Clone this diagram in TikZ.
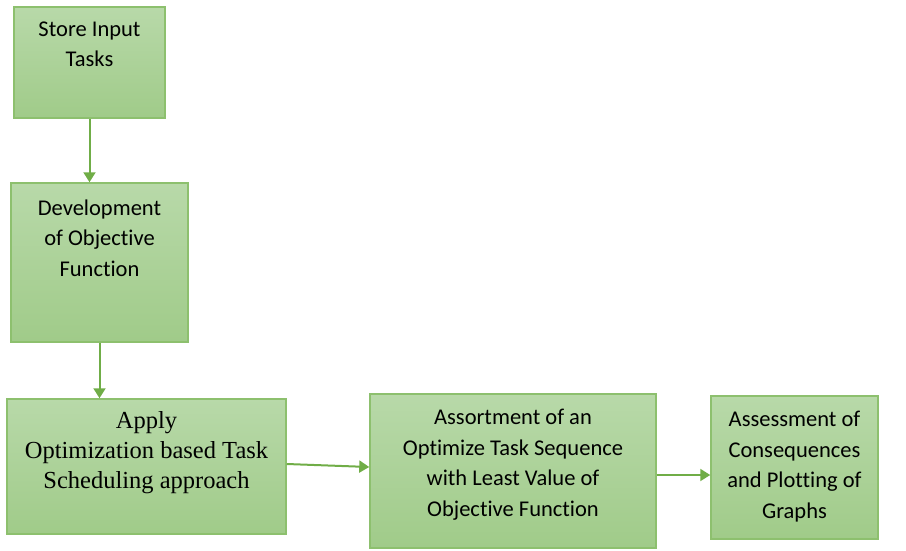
\documentclass[tikz,border=0pt]{standalone}
\usepackage{fontspec}
\setmainfont{Carlito}[Ligatures=NoCommon]
\newfontfamily\timesfont{Liberation Serif}
\usetikzlibrary{arrows.meta, calc, positioning}

\definecolor{boxline}{RGB}{141,192,110}
\definecolor{boxtop}{RGB}{184,217,169}
\definecolor{boxbottom}{RGB}{160,203,137}
\definecolor{arrowgreen}{RGB}{112,173,71}

\begin{document}
\begin{tikzpicture}[x=1pt, y=-1pt,
    box/.style={draw=boxline, line width=1.5pt, top color=boxtop, bottom color=boxbottom, inner sep=0pt},
    boxtext/.style={anchor=north, align=center, inner sep=0pt, font=\fontsize{22.5}{30.5}\selectfont},
    flow/.style={draw=arrowgreen, line width=2pt, -{Triangle[length=10pt,width=12pt]}}]
\useasboundingbox (0,0) rectangle (906,551);

% Boxes
\node[box, minimum width=151pt, minimum height=111pt] (store) at (89.5,62.5) {};
\node[box, minimum width=177pt, minimum height=159pt] (dev) at (99.5,262.5) {};
\node[box, minimum width=279pt, minimum height=135pt] (apply) at (146.5,466.5) {};
\node[box, minimum width=286pt, minimum height=154pt] (assort) at (513,471) {};
\node[box, minimum width=167pt, minimum height=143pt] (assess) at (794.5,467.5) {};

% Texts
\node[boxtext] (storetxt) at ([yshift=-15pt]store.north) {Store Input\\Tasks};
\node[boxtext] (devtxt) at ([yshift=-17pt]dev.north) {Development\\of Objective\\Function};
\node[boxtext, font=\timesfont\fontsize{24.5}{30}\selectfont] (applytxt) at ([yshift=-13pt]apply.north) {Apply\\Optimization based Task\\Scheduling approach};
\node[boxtext] (assorttxt) at ([yshift=-16pt]assort.north) {Assortment of an\\Optimize Task Sequence\\with Least Value of\\Objective Function};
\node[boxtext] (assesstxt) at ([yshift=-16pt]assess.north) {Assessment of\\Consequences\\and Plotting of\\Graphs};

% Arrows
\draw[flow] (store.south) -- (store.south |- dev.north);
\draw[flow] (dev.south) -- (dev.south |- apply.north);
\draw[flow] ([yshift=2.5pt]apply.east) -- ([yshift=4pt]assort.west);
\draw[flow] ([yshift=-4pt]assort.east) -- ([yshift=-4pt]assort.east -| assess.west);
\end{tikzpicture}
\end{document}
